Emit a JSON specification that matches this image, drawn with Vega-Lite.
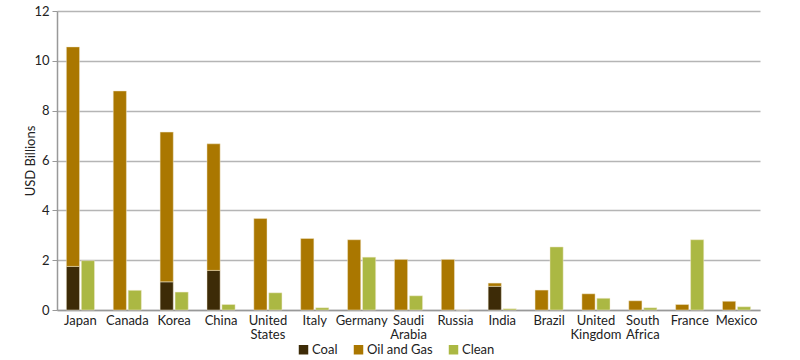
{
  "$schema": "https://vega.github.io/schema/vega-lite/v6.json",
  "autosize": {"type": "none"},
  "padding": {"left": 57, "top": 11, "right": 40, "bottom": 50},
  "width": 703,
  "height": 299,
  "background": "white",
  "config": {
    "font": "Lato",
    "view": {"stroke": null},
    "axis": {"labelFont": "Lato", "titleFont": "Lato", "labelFontSize": 13, "labelColor": "#222", "titleColor": "#222"},
    "legend": {"labelFont": "Lato", "labelFontSize": 13, "labelColor": "#222"}
  },
  "data": {
    "values": [
      {"country": "Japan", "group": "Fossil", "type": "Coal", "value": 1.75},
      {"country": "Japan", "group": "Fossil", "type": "Oil and Gas", "value": 8.81},
      {"country": "Japan", "group": "Green", "type": "Clean", "value": 1.98},
      {"country": "Canada", "group": "Fossil", "type": "Oil and Gas", "value": 8.79},
      {"country": "Canada", "group": "Green", "type": "Clean", "value": 0.79},
      {"country": "Korea", "group": "Fossil", "type": "Coal", "value": 1.13},
      {"country": "Korea", "group": "Fossil", "type": "Oil and Gas", "value": 6.01},
      {"country": "Korea", "group": "Green", "type": "Clean", "value": 0.72},
      {"country": "China", "group": "Fossil", "type": "Coal", "value": 1.59},
      {"country": "China", "group": "Fossil", "type": "Oil and Gas", "value": 5.08},
      {"country": "China", "group": "Green", "type": "Clean", "value": 0.22},
      {"country": "United States", "group": "Fossil", "type": "Oil and Gas", "value": 3.67},
      {"country": "United States", "group": "Green", "type": "Clean", "value": 0.69},
      {"country": "Italy", "group": "Fossil", "type": "Oil and Gas", "value": 2.87},
      {"country": "Italy", "group": "Green", "type": "Clean", "value": 0.09},
      {"country": "Germany", "group": "Fossil", "type": "Oil and Gas", "value": 2.82},
      {"country": "Germany", "group": "Green", "type": "Clean", "value": 2.12},
      {"country": "Saudi Arabia", "group": "Fossil", "type": "Oil and Gas", "value": 2.03},
      {"country": "Saudi Arabia", "group": "Green", "type": "Clean", "value": 0.57},
      {"country": "Russia", "group": "Fossil", "type": "Oil and Gas", "value": 2.03},
      {"country": "Russia", "group": "Green", "type": "Clean", "value": 0},
      {"country": "India", "group": "Fossil", "type": "Coal", "value": 0.95},
      {"country": "India", "group": "Fossil", "type": "Oil and Gas", "value": 0.13},
      {"country": "India", "group": "Green", "type": "Clean", "value": 0.05},
      {"country": "Brazil", "group": "Fossil", "type": "Oil and Gas", "value": 0.8},
      {"country": "Brazil", "group": "Green", "type": "Clean", "value": 2.53},
      {"country": "United Kingdom", "group": "Fossil", "type": "Oil and Gas", "value": 0.65},
      {"country": "United Kingdom", "group": "Green", "type": "Clean", "value": 0.47},
      {"country": "South Africa", "group": "Fossil", "type": "Oil and Gas", "value": 0.37},
      {"country": "South Africa", "group": "Green", "type": "Clean", "value": 0.09},
      {"country": "France", "group": "Fossil", "type": "Oil and Gas", "value": 0.22},
      {"country": "France", "group": "Green", "type": "Clean", "value": 2.82},
      {"country": "Mexico", "group": "Fossil", "type": "Oil and Gas", "value": 0.35},
      {"country": "Mexico", "group": "Green", "type": "Clean", "value": 0.13}
    ]
  },
  "mark": {"type": "bar", "stroke": "#f3ead0", "strokeWidth": 0.8, "strokeOpacity": 0.6},
  "encoding": {
    "x": {
      "field": "country",
      "type": "nominal",
      "sort": null,
      "scale": {"paddingInner": 0.4, "paddingOuter": 0.2},
      "axis": {
        "title": null,
        "labelAngle": 0,
        "labelExpr": "split(datum.label, ' ')",
        "labelLineHeight": 14,
        "labelPadding": 4,
        "ticks": false,
        "domainColor": "#999",
        "domainWidth": 1.5
      }
    },
    "xOffset": {"field": "group", "type": "nominal", "sort": ["Fossil", "Green"], "scale": {"paddingInner": 0.12}},
    "y": {
      "field": "value",
      "type": "quantitative",
      "stack": "zero",
      "scale": {"domain": [0, 12]},
      "axis": {
        "title": "USD Billions",
        "titleFontWeight": "normal",
        "titleFontSize": 13,
        "titlePadding": -4,
        "values": [0, 2, 4, 6, 8, 10, 12],
        "gridColor": "#b5b5b5",
        "gridWidth": 1.5,
        "domainColor": "#999",
        "domainWidth": 1.5,
        "tickColor": "#999",
        "tickSize": 5,
        "labelPadding": 3
      }
    },
    "color": {
      "field": "type",
      "type": "nominal",
      "scale": {"domain": ["Coal", "Oil and Gas", "Clean"], "range": ["#3d2b07", "#aa7700", "#abb843"]},
      "legend": {
        "title": null,
        "orient": "none",
        "legendX": 240,
        "legendY": 332,
        "direction": "horizontal",
        "symbolType": "square",
        "symbolSize": 90,
        "symbolStrokeWidth": 0,
        "columnPadding": 14,
        "labelOffset": 2
      }
    },
    "order": {"field": "type", "sort": "ascending"}
  }
}
